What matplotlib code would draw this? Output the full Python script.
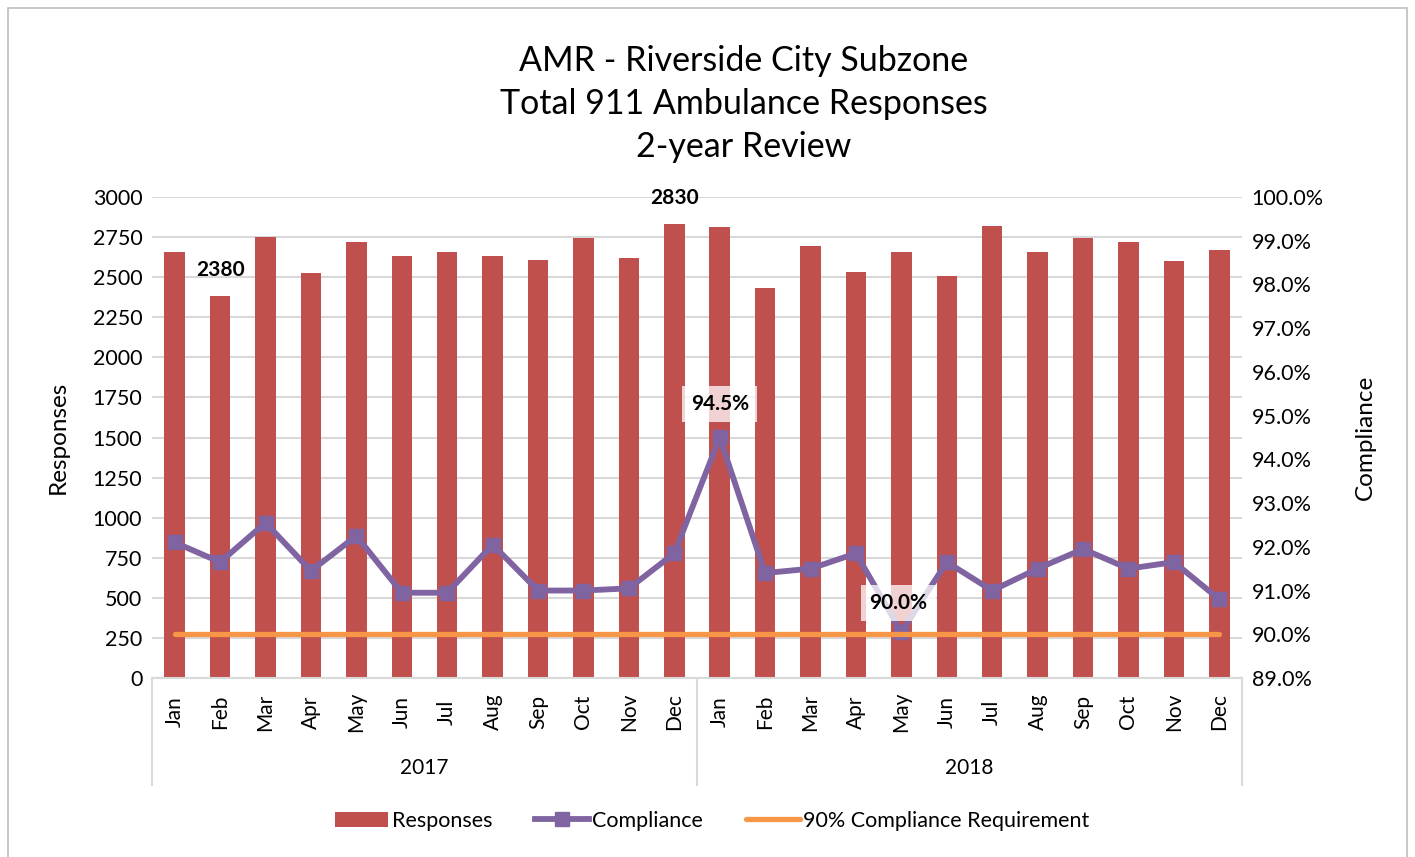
import matplotlib.pyplot as plt
import matplotlib.transforms as mtransforms
from matplotlib.lines import Line2D
from matplotlib.patches import Patch, Rectangle
from matplotlib.ticker import FuncFormatter, MultipleLocator

plt.rcParams['font.family'] = ['Lato', 'DejaVu Sans']

months = ['Jan', 'Feb', 'Mar', 'Apr', 'May', 'Jun',
          'Jul', 'Aug', 'Sep', 'Oct', 'Nov', 'Dec']
years = ['2017', '2018']

responses_2017 = [2660, 2380, 2750, 2525, 2720, 2635, 2660, 2635, 2610, 2745, 2620, 2830]
responses_2018 = [2810, 2435, 2695, 2535, 2660, 2510, 2820, 2660, 2745, 2720, 2600, 2670]

compliance_2017 = [92.1, 91.65, 92.55, 91.45, 92.25, 90.95, 90.95, 92.05, 91.0, 91.0, 91.05, 91.85]
compliance_2018 = [94.5, 91.4, 91.5, 91.85, 90.05, 91.65, 91.0, 91.5, 91.95, 91.5, 91.65, 90.8]

requirement = 90.0

responses = responses_2017 + responses_2018
compliance = compliance_2017 + compliance_2018
labels = months * 2
x = list(range(len(responses)))

bar_color = '#C0504D'
line_color = '#8064A2'
req_color = '#F79646'

fig = plt.figure(figsize=(14.15, 8.57), dpi=100)
ax = fig.add_axes([152 / 1415, 1 - 678 / 857, 1090 / 1415, 481 / 857])
ax2 = ax.twinx()

# bars
ax.bar(x, responses, width=0.45, color=bar_color, zorder=2)
ax.set_ylim(0, 3000)
ax.set_xlim(-0.5, len(x) - 0.5)
ax.yaxis.set_major_locator(MultipleLocator(250))
ax.grid(axis='y', color='#d9d9d9', linewidth=1.5, zorder=0)
ax.set_axisbelow(True)
ax.set_ylabel('Responses', fontsize=17.5, labelpad=17)

# compliance lines on right axis
ax2.plot(x, compliance, color=line_color, linewidth=4.2, marker='s',
         markersize=10, zorder=3)
ax2.plot([x[0], x[-1]], [requirement, requirement], color=req_color,
         linewidth=3.8, solid_capstyle='round', zorder=3)
ax2.set_ylim(89, 100)
ax2.yaxis.set_major_locator(MultipleLocator(1))
ax2.yaxis.set_major_formatter(FuncFormatter(lambda v, p: f'{v:.1f}%'))
ax2.set_ylabel('Compliance', fontsize=17.5, labelpad=22)

for a in (ax, ax2):
    for s in a.spines.values():
        s.set_visible(False)
    a.tick_params(axis='y', length=0, labelsize=15.5, pad=7)
ax.spines['bottom'].set_visible(True)
ax.spines['bottom'].set_color('#d9d9d9')
ax.spines['bottom'].set_linewidth(1.5)
ax.set_xticks(x)
ax.set_xticklabels([])
ax.tick_params(axis='x', length=0)

# two-level category axis
trans = mtransforms.blended_transform_factory(ax.transData, ax.transAxes)
for i, m in enumerate(labels):
    ax.text(i, -34 / 481, m, rotation=90, ha='center', va='center',
            fontsize=15, transform=trans)
for j, yname in enumerate(years):
    ax.text(j * 12 + 5.5, -90 / 481, yname, ha='center', va='center',
            fontsize=15, transform=trans)
for xb in (-0.5, 11.5, 23.5):
    ax.plot([xb, xb], [0, -107 / 481], color='#d9d9d9', linewidth=1.5,
            transform=trans, clip_on=False)

# data labels
bold = dict(fontsize=15, fontweight='bold', ha='center', va='center')
ax.annotate(str(responses[1]), (x[1], responses[1]), xytext=(0, 19),
            textcoords='offset points', **bold)
ax.annotate(str(responses[11]), (x[11], responses[11]), xytext=(0, 19),
            textcoords='offset points', **bold)
box = dict(boxstyle='square,pad=0.4', facecolor='white', alpha=0.75, edgecolor='none')
ax2.annotate(f'{compliance[12]:.1f}%', (x[12], compliance[12]), xytext=(0, 24),
             textcoords='offset points', bbox=box, zorder=5, **bold)
ax2.annotate(f'{compliance[16]:.1f}%', (x[16], compliance[16]), xytext=(-2, 21),
             textcoords='offset points', bbox=box, zorder=5, **bold)

# title
fig.text(744 / 1415, 1 - 104 / 857,
         'AMR - Riverside City Subzone\nTotal 911 Ambulance Responses\n2-year Review',
         ha='center', va='center', fontsize=24.5, linespacing=1.42)

# legend
handles = [
    Patch(facecolor=bar_color, label='Responses'),
    Line2D([], [], color=line_color, linewidth=4.2, marker='s', markersize=10,
           label='Compliance'),
    Line2D([], [], color=req_color, linewidth=3.8, solid_capstyle='round',
           label='90% Compliance Requirement'),
]
fig.legend(handles=handles, loc='center', bbox_to_anchor=(712 / 1415, 1 - 821 / 857),
           ncol=3, frameon=False, fontsize=15.5, handlelength=2.5,
           handletextpad=0.15, columnspacing=2.0)

# chart border
fig.patches.append(Rectangle((8 / 1415, -0.05), 1399 / 1415, 1.05 - 8 / 857,
                             transform=fig.transFigure, fill=False,
                             edgecolor='#bfbfbf', linewidth=1.2))

fig.savefig('out.png', dpi=100)
